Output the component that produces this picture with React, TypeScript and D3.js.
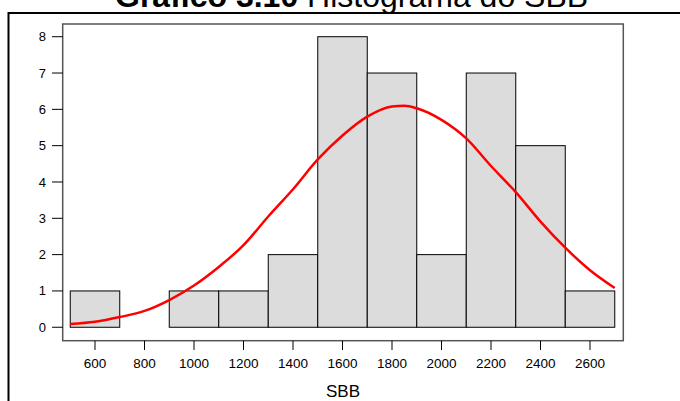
import React from "react";
import * as d3 from "d3";

const binStarts = [500, 700, 900, 1100, 1300, 1500, 1700, 1900, 2100, 2300, 2500];
const binWidth = 200;
const counts = [1, 0, 1, 1, 2, 8, 7, 2, 7, 5, 1];

const curveX = [500, 600, 700, 800, 900, 1000, 1100, 1200, 1300, 1400, 1500, 1600, 1700, 1800, 1850, 1900, 2000, 2100, 2200, 2300, 2400, 2500, 2600, 2700];
const curveY = [0.09, 0.15, 0.28, 0.45, 0.75, 1.15, 1.66, 2.26, 3.05, 3.8, 4.62, 5.28, 5.8, 6.08, 6.1, 6.03, 5.71, 5.2, 4.44, 3.72, 2.91, 2.19, 1.57, 1.08];

const xTicks = [600, 800, 1000, 1200, 1400, 1600, 1800, 2000, 2200, 2400, 2600];
const yTicks = [0, 1, 2, 3, 4, 5, 6, 7, 8];

const titleBold = "Gráfico 3.10";
const titleRest = " Histograma do SBB";
const xLabel = "SBB";

export default function App() {
  const W = 680, H = 401;
  const pl = 62.7, pr = 623.3, pt = 24, pb = 340.7;
  const x = d3.scaleLinear().domain([469.5, 2734.5]).range([pl, pr]);
  const y = d3.scaleLinear().domain([-0.37, 8.35]).range([pb, pt]);
  const line = d3
    .line<number>()
    .x((_, i) => x(curveX[i]))
    .y((d) => y(d))
    .curve(d3.curveMonotoneX);
  const font = "'Liberation Sans', Arial, sans-serif";
  return (
    <svg
      width={W}
      height={H}
      style={{ position: "absolute", left: 0, top: 0, display: "block", background: "#fff" }}
      fontFamily={font}
    >
      <rect x={0} y={0} width={W} height={H} fill="#fff" />
      <text x={115} y={6.5} fontSize={32} fill="#000">
        <tspan fontWeight="bold">{titleBold}</tspan>
        <tspan>{titleRest}</tspan>
      </text>
      <rect x={8.5} y={13} width={W + 20} height={H + 20} fill="none" stroke="#000" strokeWidth={2} />
      {binStarts.map((b, i) => (
        <rect
          key={b}
          x={x(b)}
          y={y(counts[i])}
          width={x(b + binWidth) - x(b)}
          height={y(0) - y(counts[i])}
          fill="#dcdcdc"
          stroke="#000"
          strokeWidth={1}
        />
      ))}
      <path d={line(curveY) || ""} fill="none" stroke="#ff0000" strokeWidth={2.5} strokeLinejoin="round" />
      <rect x={pl} y={pt} width={pr - pl} height={pb - pt} fill="none" stroke="#555" strokeWidth={1.5} />
      {yTicks.map((t) => (
        <g key={t}>
          <line x1={52} x2={pl} y1={y(t)} y2={y(t)} stroke="#000" strokeWidth={1} />
          <text x={46} y={y(t)} dy="0.35em" textAnchor="end" fontSize={13} fill="#000">
            {t}
          </text>
        </g>
      ))}
      {xTicks.map((t) => (
        <g key={t}>
          <line x1={x(t)} x2={x(t)} y1={pb} y2={350} stroke="#000" strokeWidth={1} />
          <text x={x(t)} y={368.3} textAnchor="middle" fontSize={13.5} fill="#000">
            {t}
          </text>
        </g>
      ))}
      <text x={(pl + pr) / 2} y={397} textAnchor="middle" fontSize={17} fill="#000">
        {xLabel}
      </text>
    </svg>
  );
}
